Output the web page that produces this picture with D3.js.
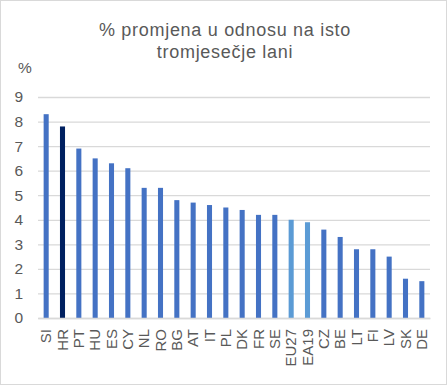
<!DOCTYPE html>
<html>
<head>
<meta charset="utf-8">
<script src="https://cdn.jsdelivr.net/npm/d3@7"></script>
<style>
  body { margin: 0; background: #fff; }
</style>
</head>
<body>
<script>
// countries, ordered as in the chart
const countries = ['SI','HR','PT','HU','ES','CY','NL','RO','BG','AT','IT','PL','DK','FR','SE','EU27','EA19','CZ','BE','LT','FI','LV','SK','DE'];
// % change vs same quarter last year
const changes = [8.3, 7.8, 6.9, 6.5, 6.3, 6.1, 5.3, 5.3, 4.8, 4.7, 4.6, 4.5, 4.4, 4.2, 4.2, 4.0, 3.9, 3.6, 3.3, 2.8, 2.8, 2.5, 1.6, 1.5];
const yTicks = [0, 1, 2, 3, 4, 5, 6, 7, 8, 9];
const titleLines = ['% promjena u odnosu na isto', 'tromjesečje lani'];

const data = countries.map((c, i) => ({name: c, value: changes[i]}));

const width = 448;
const height = 386;
const margin = ({top: 97, right: 18, bottom: 68, left: 38});

const svg = d3.select('body')
              .append('svg')
              .attr('width', width)
              .attr('height', height)
              .style('font-family', 'Arial, "Liberation Sans", sans-serif');

// chart border
svg.append('rect')
   .attr('x', 0.5).attr('y', 0.5)
   .attr('width', 446).attr('height', 384)
   .attr('fill', '#fff')
   .attr('stroke', '#d9d9d9');

const xScale = d3.scaleBand()
                 .domain(countries)
                 .range([margin.left, width - margin.right])
                 .paddingInner(0.69)
                 .paddingOuter(0.345);

const yScale = d3.scaleLinear()
                 .domain([0, 9])
                 .range([318, margin.top]);

// gridlines + y labels
const yAxis = d3.axisLeft(yScale)
                .tickValues(yTicks)
                .tickSize(-(width - margin.right - margin.left))
                .tickPadding(15);

const gy = svg.append('g')
   .attr('transform', `translate(${margin.left},0)`)
   .call(yAxis);
gy.select('.domain').remove();
gy.selectAll('line').attr('stroke', '#d9d9d9').attr('stroke-width', 1.3);
gy.selectAll('text')
  .attr('fill', '#595959')
  .attr('font-size', 15.5)
  .attr('x', -15);

// bars
function barColor(d) {
  if (d.name == 'HR') return '#002060';
  if (d.name == 'EU27' || d.name == 'EA19') return '#5b9bd5';
  return '#4472c4';
}

svg.append('g')
   .selectAll('rect')
   .data(data)
   .join('rect')
   .attr('x', d => xScale(d.name))
   .attr('y', d => yScale(d.value))
   .attr('width', xScale.bandwidth())
   .attr('height', d => yScale(0) - yScale(d.value))
   .attr('fill', barColor);

// x axis
const xAxis = d3.axisBottom(xScale).tickSize(0);
const gx = svg.append('g')
   .attr('transform', `translate(0,${yScale(0)})`)
   .call(xAxis);
gx.select('.domain').attr('stroke', '#d9d9d9').attr('stroke-width', 1.3);
gx.selectAll('text')
  .attr('fill', '#595959')
  .attr('font-size', 15)
  .attr('transform', 'rotate(-90)')
  .attr('text-anchor', 'end')
  .attr('x', -11)
  .attr('y', 0)
  .attr('dy', '0.35em');

// title
svg.append('g')
   .selectAll('text')
   .data(titleLines)
   .join('text')
   .attr('x', 225)
   .attr('y', (d, i) => 35.5 + i * 22)
   .attr('text-anchor', 'middle')
   .attr('font-size', 18)
   .attr('letter-spacing', 0.7)
   .attr('fill', '#595959')
   .text(d => d);

// unit label
svg.append('text')
   .attr('x', 18)
   .attr('y', 73)
   .attr('font-size', 15.5)
   .attr('fill', '#595959')
   .text('%');
</script>
</body>
</html>
